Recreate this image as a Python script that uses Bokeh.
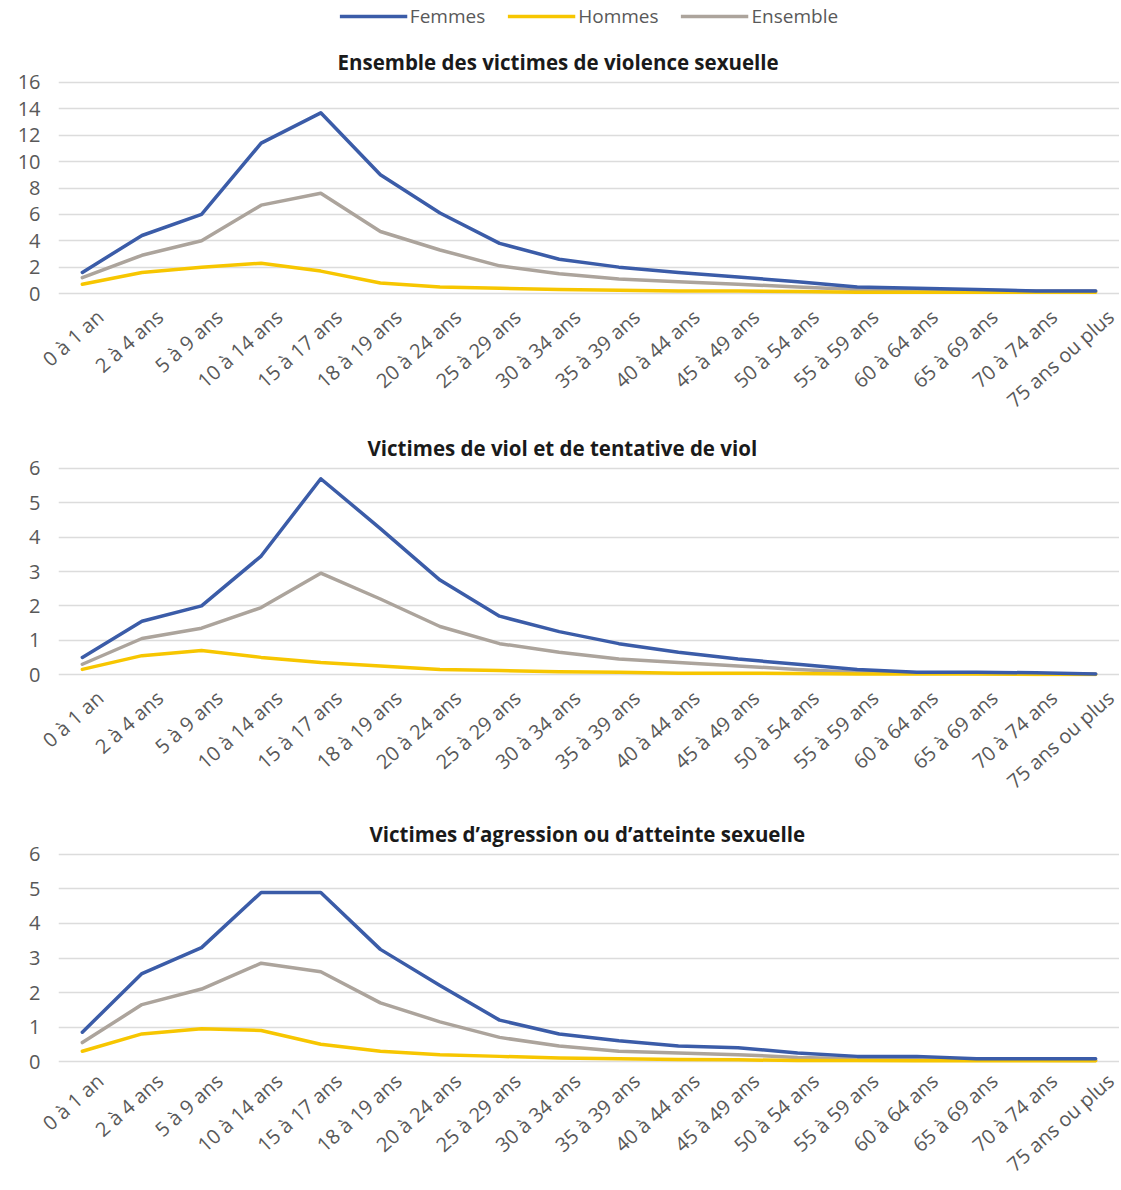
from bokeh.plotting import figure
from bokeh.models import (Range1d, FixedTicker, Legend, LegendItem, LinearAxis)
from bokeh.layouts import column
from bokeh.embed import file_html
from bokeh.resources import INLINE

categories = ["0 à 1 an", "2 à 4 ans", "5 à 9 ans", "10 à 14 ans", "15 à 17 ans",
              "18 à 19 ans", "20 à 24 ans", "25 à 29 ans", "30 à 34 ans", "35 à 39 ans",
              "40 à 44 ans", "45 à 49 ans", "50 à 54 ans", "55 à 59 ans", "60 à 64 ans",
              "65 à 69 ans", "70 à 74 ans", "75 ans ou plus"]

series_names = ["Femmes", "Hommes", "Ensemble"]

# Panel 1 : Ensemble des victimes de violence sexuelle
p1_femmes = [1.6, 4.4, 6.0, 11.4, 13.7, 9.0, 6.1, 3.8, 2.6, 2.0, 1.6, 1.25, 0.9, 0.5, 0.4, 0.3, 0.2, 0.2]
p1_hommes = [0.7, 1.6, 2.0, 2.3, 1.7, 0.8, 0.5, 0.4, 0.3, 0.25, 0.2, 0.2, 0.15, 0.1, 0.1, 0.1, 0.1, 0.1]
p1_ensemble = [1.2, 2.9, 4.0, 6.7, 7.6, 4.7, 3.3, 2.1, 1.5, 1.1, 0.9, 0.7, 0.5, 0.3, 0.3, 0.25, 0.2, 0.2]

# Panel 2 : Victimes de viol et de tentative de viol
p2_femmes = [0.5, 1.55, 2.0, 3.45, 5.7, 4.25, 2.75, 1.7, 1.25, 0.9, 0.65, 0.45, 0.3, 0.15, 0.07, 0.07, 0.05, 0.02]
p2_hommes = [0.15, 0.55, 0.7, 0.5, 0.35, 0.25, 0.15, 0.12, 0.08, 0.07, 0.04, 0.04, 0.03, 0.02, 0.02, 0.02, 0.0, 0.0]
p2_ensemble = [0.3, 1.05, 1.35, 1.95, 2.95, 2.2, 1.4, 0.9, 0.65, 0.45, 0.35, 0.25, 0.15, 0.07, 0.05, 0.03, 0.02, 0.02]

# Panel 3 : Victimes d'agression ou d'atteinte sexuelle
p3_femmes = [0.85, 2.55, 3.3, 4.9, 4.9, 3.25, 2.2, 1.2, 0.8, 0.6, 0.45, 0.4, 0.25, 0.15, 0.15, 0.08, 0.08, 0.08]
p3_hommes = [0.3, 0.8, 0.95, 0.9, 0.5, 0.3, 0.2, 0.15, 0.1, 0.08, 0.06, 0.05, 0.03, 0.03, 0.02, 0.02, 0.02, 0.02]
p3_ensemble = [0.55, 1.65, 2.1, 2.85, 2.6, 1.7, 1.15, 0.7, 0.45, 0.3, 0.25, 0.2, 0.12, 0.08, 0.07, 0.05, 0.04, 0.03]

titles = ["Ensemble des victimes de violence sexuelle",
          "Victimes de viol et de tentative de viol",
          "Victimes d\u2019agression ou d\u2019atteinte sexuelle"]
y_ticks_1 = [0, 2, 4, 6, 8, 10, 12, 14, 16]
y_ticks_23 = [0, 1, 2, 3, 4, 5, 6]

colors = {"Femmes": "#3b5ca8", "Hommes": "#f7c600", "Ensemble": "#aca49c"}
FONT = "Open Sans"
LABEL_COLOR = "#595959"
W = 1119
LW = 3.5
EDGE = 0.4     # space before the first / after the last category (category units)
SHIFT = 0.3    # label anchor shift to the right (category units)

positions = list(range(len(categories)))   # category index on the x scale


def make_panel(title, title_offset, fem, hom, ens, yend, ticks, height, top, bottom, standoff):
    n = len(categories)
    p = figure(width=W, height=height,
               x_range=Range1d(-EDGE, n - 1 + EDGE),
               y_range=Range1d(-yend * 0.0094, yend * 1.0094),
               output_backend="svg", toolbar_location=None,
               min_border_left=58, min_border_right=0,
               min_border_top=top, min_border_bottom=bottom)
    p.outline_line_color = None
    p.background_fill_color = "white"
    p.border_fill_color = "white"
    for name, vals in (("Ensemble", ens), ("Hommes", hom), ("Femmes", fem)):
        p.line(positions, vals, line_color=colors[name], line_width=LW,
               line_join="round", line_cap="round")
    p.xgrid.grid_line_color = None
    p.ygrid.grid_line_color = "#dcdcdc"
    p.ygrid.grid_line_width = 1.5
    p.yaxis.ticker = FixedTicker(ticks=ticks)
    p.yaxis.axis_line_color = None
    p.yaxis.major_tick_line_color = None
    p.yaxis.minor_tick_line_color = None
    p.yaxis.major_label_text_font = FONT
    p.yaxis.major_label_text_color = LABEL_COLOR
    p.yaxis.major_label_text_font_size = "20px"
    p.yaxis.major_label_standoff = 12
    p.xaxis.visible = False

    # category label axis on a slightly shifted range (Excel-like anchoring)
    p.extra_x_ranges = {"lab": Range1d(start=-EDGE - SHIFT, end=n - 1 + EDGE - SHIFT)}
    lab_axis = LinearAxis(x_range_name="lab",
                          ticker=FixedTicker(ticks=positions),
                          major_label_overrides={i: c for i, c in zip(positions, categories)})
    lab_axis.axis_line_color = None
    lab_axis.major_tick_line_color = None
    lab_axis.minor_tick_line_color = None
    lab_axis.major_label_text_font = FONT
    lab_axis.major_label_text_color = LABEL_COLOR
    lab_axis.major_label_text_font_size = "20px"
    lab_axis.major_label_orientation = 0.73
    lab_axis.major_label_standoff = standoff
    p.add_layout(lab_axis, "below")

    p.title.text = title
    p.title.align = "left"
    p.title.offset = title_offset
    p.title.text_font = FONT
    p.title.text_font_style = "bold"
    p.title.text_font_size = "20.5px"
    p.title.text_color = "#1a1a1a"
    return p


# Legend strip (shared legend at the top)
lg = figure(width=W, height=30, x_range=Range1d(0, 1), y_range=Range1d(0, 1),
            output_backend="svg", toolbar_location=None,
            min_border_left=0, min_border_right=0, min_border_top=0, min_border_bottom=0)
lg.axis.visible = False
lg.grid.visible = False
lg.outline_line_color = None
items = []
for name in series_names:
    r = lg.line([-5, -4], [-5, -4], line_color=colors[name], line_width=LW)
    items.append(LegendItem(label=name, renderers=[r]))
leg = Legend(items=items, orientation="horizontal", location="top_center",
             label_text_font=FONT, label_text_font_size="19px",
             label_text_color=LABEL_COLOR, glyph_width=68, glyph_height=18,
             spacing=22, label_standoff=3, border_line_color=None,
             background_fill_alpha=0, padding=0, margin=3, label_height=18)
lg.add_layout(leg, "center")

p1 = make_panel(titles[0], 279, p1_femmes, p1_hommes, p1_ensemble, 16, y_ticks_1,
                height=396, top=50, bottom=128, standoff=12)
p2 = make_panel(titles[1], 309, p2_femmes, p2_hommes, p2_ensemble, 6, y_ticks_23,
                height=386, top=36, bottom=136, standoff=12)
p3 = make_panel(titles[2], 311, p3_femmes, p3_hommes, p3_ensemble, 6, y_ticks_23,
                height=378, top=38, bottom=122, standoff=8)

layout = column(lg, p1, p2, p3, spacing=0)
open("out.html", "w").write(file_html(layout, INLINE))
